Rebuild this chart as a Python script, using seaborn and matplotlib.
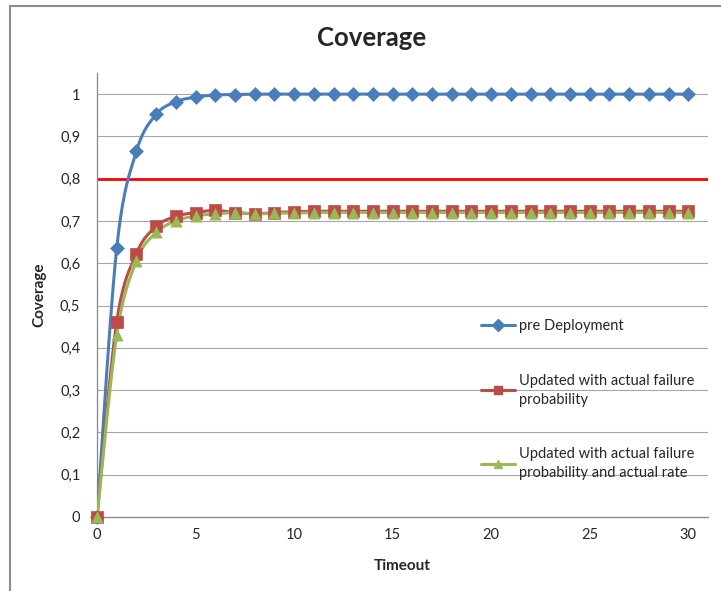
import numpy as np
import matplotlib
matplotlib.use("Agg")
import matplotlib.pyplot as plt
from matplotlib.lines import Line2D
import seaborn as sns

# data
timeout = list(range(0, 31))
pre_deployment = [0, 0.636, 0.865, 0.952, 0.982, 0.993, 0.998, 0.999] + [1.0] * 23
updated_prob = [0, 0.461, 0.623, 0.687, 0.711, 0.720, 0.725, 0.720, 0.717, 0.720, 0.722] + [0.723] * 20
updated_prob_rate = [0, 0.430, 0.606, 0.673, 0.700, 0.712, 0.717, 0.720, 0.717, 0.718, 0.719] + [0.720] * 20
target = 0.8

labels = ["pre Deployment",
          "Updated with actual failure\nprobability",
          "Updated with actual failure\nprobability and actual rate"]
colors = ["#4A7EBB", "#BE4B48", "#98B954"]
markers = ["D", "s", "^"]


def smooth(x, y, n=20):
    # Catmull-Rom curve through the points, like Excel's smoothed lines
    x = np.asarray(x, float)
    y = np.asarray(y, float)
    px = np.concatenate([[x[0]], x, [x[-1]]])
    py = np.concatenate([[y[0]], y, [y[-1]]])
    xs, ys = [], []
    t = np.linspace(0, 1, n, endpoint=False)
    for i in range(1, len(px) - 2):
        for p, out in ((px, xs), (py, ys)):
            p0, p1, p2, p3 = p[i - 1], p[i], p[i + 1], p[i + 2]
            out.extend(0.5 * (2 * p1 + (-p0 + p2) * t
                              + (2 * p0 - 5 * p1 + 4 * p2 - p3) * t ** 2
                              + (-p0 + 3 * p1 - 3 * p2 + p3) * t ** 3))
    xs.append(x[-1])
    ys.append(y[-1])
    return np.array(xs), np.array(ys)


sns.set_style("white")
plt.rcParams["font.family"] = ["Lato", "DejaVu Sans"]

fig = plt.figure(figsize=(7.21, 5.91), dpi=100)
ax = fig.add_axes([97 / 721, 1 - 517 / 591, (708 - 97) / 721, (517 - 73) / 591])

ax.axhline(target, color="#FF0000", lw=2, zorder=2)

series = [pre_deployment, updated_prob, updated_prob_rate]
handles = []
for vals, col, mk, lab in zip(series, colors, markers, labels):
    sx, sy = smooth(timeout, vals)
    sns.lineplot(x=sx, y=sy, sort=False, color=col, lw=2.2, ax=ax, zorder=3)
    sns.scatterplot(x=timeout, y=vals, marker=mk, s=65 if mk != "D" else 50,
                    color=col, edgecolor=col, linewidth=0.5, ax=ax, zorder=4,
                    clip_on=False)
    handles.append(Line2D([], [], color=col, lw=2.2, marker=mk, markersize=6, label=lab))

ax.set_xlim(0, 31)
ax.set_ylim(0, 1.05)
ax.set_xticks([0, 5, 10, 15, 20, 25, 30])
yt = np.round(np.arange(0, 1.01, 0.1), 1)
ax.set_yticks(yt)
ax.set_yticklabels(["0" if v == 0 else ("1" if v == 1 else f"{v:.1f}".replace(".", ",")) for v in yt])
ax.grid(axis="y", color="#A6A6A6", lw=0.8)
ax.set_axisbelow(True)
for s in ["top", "right"]:
    ax.spines[s].set_visible(False)
for s in ["left", "bottom"]:
    ax.spines[s].set_color("#868686")
    ax.spines[s].set_linewidth(0.9)
ax.tick_params(axis="x", direction="in", length=4, color="#868686", labelsize=10.5, pad=8)
ax.tick_params(axis="y", direction="out", length=4, color="#868686", labelsize=10.5, pad=8)
ax.set_xlabel("Timeout", fontsize=11, fontweight="bold", labelpad=12)
ax.set_ylabel("Coverage", fontsize=11, fontweight="bold", labelpad=10)

leg = ax.legend(handles=handles, loc="upper left", bbox_to_anchor=(0.617, 0.463),
                frameon=False, fontsize=10.5, handlelength=2.3, handletextpad=0.3,
                labelspacing=2.8, borderpad=0)
for txt in leg.get_texts():
    txt.set_linespacing(1.45)

fig.text(372 / 721, 1 - 38 / 591, "Coverage", fontsize=18.5, fontweight="bold",
         ha="center", va="center")

# chart frame (left and top edges visible in the crop)
fig.add_artist(Line2D([10 / 721, 10 / 721], [0, 1 - 6 / 591], color="#8C8C8C", lw=1.5))
fig.add_artist(Line2D([10 / 721, 1], [1 - 6 / 591, 1 - 6 / 591], color="#8C8C8C", lw=1.5))

fig.savefig("out.png", dpi=100)
